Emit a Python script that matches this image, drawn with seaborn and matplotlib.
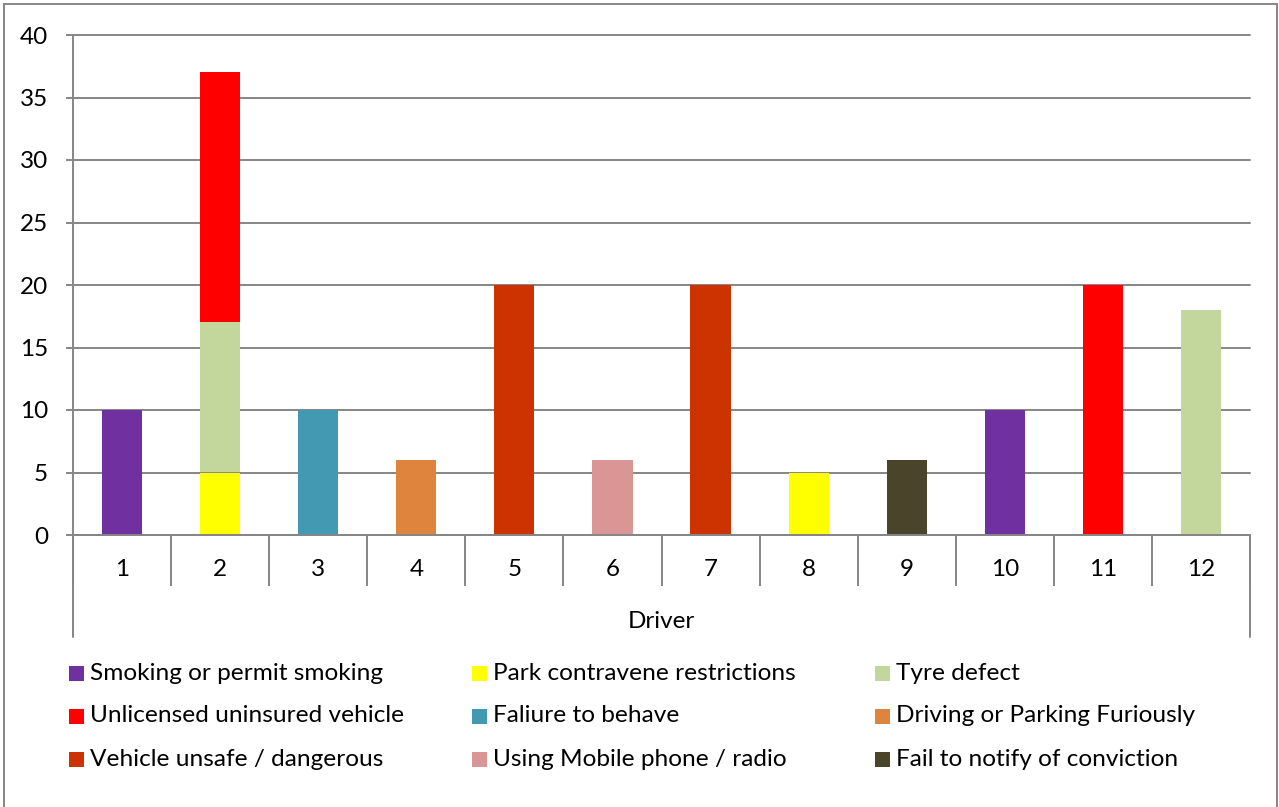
import numpy as np
import pandas as pd
import matplotlib
matplotlib.use("Agg")
import matplotlib.pyplot as plt
import seaborn as sns
from matplotlib.patches import Rectangle
from matplotlib.lines import Line2D

# ---------------- data ----------------
drivers = list(range(1, 13))
series_names = [
    "Smoking or permit smoking",
    "Park contravene restrictions",
    "Tyre defect",
    "Unlicensed uninsured vehicle",
    "Faliure to behave",
    "Driving or Parking Furiously",
    "Vehicle unsafe / dangerous",
    "Using Mobile phone / radio",
    "Fail to notify of conviction",
]
smoking    = [10, 0, 0, 0, 0, 0, 0, 0, 0, 10, 0, 0]
park       = [0, 5, 0, 0, 0, 0, 0, 5, 0, 0, 0, 0]
tyre       = [0, 12, 0, 0, 0, 0, 0, 0, 0, 0, 0, 18]
unlicensed = [0, 20, 0, 0, 0, 0, 0, 0, 0, 0, 20, 0]
faliure    = [0, 0, 10, 0, 0, 0, 0, 0, 0, 0, 0, 0]
furious    = [0, 0, 0, 6, 0, 0, 0, 0, 0, 0, 0, 0]
unsafe     = [0, 0, 0, 0, 20, 0, 20, 0, 0, 0, 0, 0]
mobile     = [0, 0, 0, 0, 0, 6, 0, 0, 0, 0, 0, 0]
notify     = [0, 0, 0, 0, 0, 0, 0, 0, 6, 0, 0, 0]
series_values = [smoking, park, tyre, unlicensed, faliure, furious, unsafe, mobile, notify]
series_colors = ["#7030A0", "#FFFF00", "#C3D69B", "#FF0000", "#4399B1",
                 "#DF843C", "#CC3300", "#D99694", "#4A452A"]
y_ticks = [0, 5, 10, 15, 20, 25, 30, 35, 40]
x_label = "Driver"

# ---------------- style ----------------
sns.set_style("white")
plt.rcParams['font.family'] = ['Lato', 'DejaVu Sans']
GRAY = "#868686"
TICK_FS = 17.5
LEG_FS = 17.6

W, H = 1279, 807
fig = plt.figure(figsize=(W / 100, H / 100), dpi=100)
ax = fig.add_axes([73 / W, 1 - 535 / H, (1250 - 73) / W, 500 / H])

rows = []
for name, vals in zip(series_names, series_values):
    for d, v in zip(drivers, vals):
        rows.append((d, name, v))
df = pd.DataFrame(rows, columns=["Driver", "Offence", "Value"])

sns.histplot(data=df, x="Driver", weights="Value", hue="Offence",
             hue_order=series_names[::-1], multiple="stack", discrete=True,
             shrink=0.41, palette=dict(zip(series_names, series_colors)),
             alpha=1, linewidth=0, legend=False, ax=ax)

ax.set_xlim(0.5, 12.5)
ax.set_ylim(0, 40)
ax.set_yticks(y_ticks)
ax.set_yticklabels([str(v) for v in y_ticks])
ax.set_xticks(np.arange(0.5, 12.6, 1.0))
ax.set_xticklabels([])
ax.set_xticks(drivers, minor=True)
ax.set_xticklabels([str(d) for d in drivers], minor=True)

ax.tick_params(axis='x', which='major', bottom=True, length=51 * 0.72, width=1.4,
               color=GRAY, direction='out')
ax.tick_params(axis='x', which='minor', bottom=True, length=0, pad=24 * 0.72,
               labelsize=TICK_FS, labelcolor="#000000")
ax.tick_params(axis='y', which='major', left=True, length=7 * 0.72, width=1.4,
               color=GRAY, pad=18 * 0.72, labelsize=TICK_FS, labelcolor="#000000")

ax.yaxis.grid(True, color=GRAY, lw=1.4)
ax.xaxis.grid(False)
ax.set_axisbelow(True)
for gl in ax.get_ygridlines():
    gl.set_clip_on(False)
for s in ['top', 'right']:
    ax.spines[s].set_visible(False)
for s in ['left', 'bottom']:
    ax.spines[s].set_color(GRAY)
    ax.spines[s].set_linewidth(1.4)

ax.set_ylabel("")
ax.set_xlabel(x_label, fontsize=TICK_FS, color="#000000")
ax.xaxis.set_label_coords(0.5, (535 - 621) / 500)
ax.xaxis.label.set_va('center')

# extended outer separators of the category axis
ext = (637 - 535) / 500
for xa in (0, 1):
    ax.add_line(Line2D([xa, xa], [0, -ext], transform=ax.transAxes,
                       color=GRAY, lw=1.4, clip_on=False))

# ---------------- legend ----------------
col_x = [69, 472, 875]
row_y = [673, 716, 759]
sq = 15
for i, (name, c) in enumerate(zip(series_names, series_colors)):
    r, cidx = divmod(i, 3)
    x0, yc = col_x[cidx], row_y[r]
    fig.add_artist(Rectangle((x0 / W, 1 - (yc + sq / 2) / H), sq / W, sq / H,
                             transform=fig.transFigure, facecolor=c,
                             edgecolor='none'))
    fig.text((x0 + sq + 6) / W, 1 - yc / H, name, fontsize=LEG_FS,
             va='center', ha='left', color="#000000")

# chart border
fig.add_artist(Rectangle((4 / W, -0.02), (1277 - 4) / W, 1 - 4 / H + 0.02,
                         transform=fig.transFigure, fill=False,
                         edgecolor=GRAY, lw=1.4))

fig.savefig("out.png", dpi=100)
